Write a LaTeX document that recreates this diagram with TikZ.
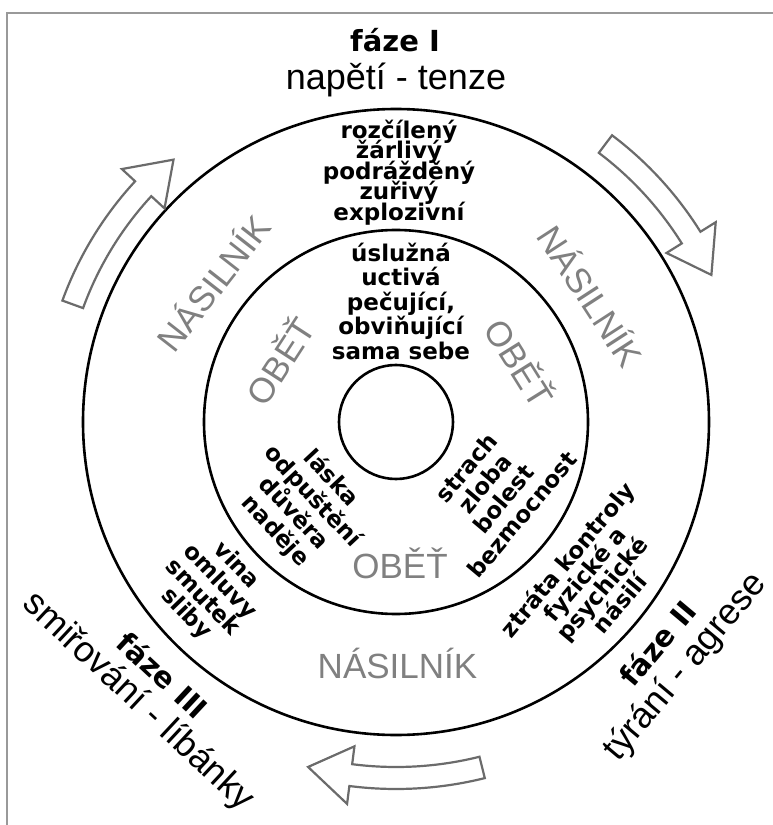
\documentclass[tikz,border=0pt]{standalone}
\usepackage{fontspec}
\usepackage{graphicx}
\setmainfont{Liberation Sans}
\newfontfamily\dvsans{DejaVu Sans}
\newcommand\blkfont[1]{\dvsans\bfseries\fontsize{23pt}{#1pt}\selectfont\lineskiplimit=-100pt\relax\lineskip=0pt\relax}
\tikzset{
  ring/.style={draw=black, line width=2.6pt},
  frameline/.style={draw=black!40, line width=2pt},
  cyc/.style={draw=black!58, line width=2.2pt, fill=white, line join=miter},
  blk/.style={font=\blkfont{#1}, align=center, inner sep=0pt, text=black},
  gr/.style={font=\fontsize{35pt}{40pt}\selectfont, text=black!50, inner sep=0pt},
  phase/.style={font=\dvsans\bfseries\fontsize{29pt}{30pt}\selectfont, inner sep=0pt},
  phasesub/.style={font=\fontsize{36pt}{40pt}\selectfont, inner sep=0pt},
}
% #1 tail angle, #2 tip angle, #3 centre radius
\newcommand\cyclearrow[3]{%
  \pgfmathsetmacro\arrHead{#2+7}%
  \pgfmathsetmacro\rOa{#3+11}\pgfmathsetmacro\rOb{#3+29}%
  \pgfmathsetmacro\rIa{#3-11}\pgfmathsetmacro\rIb{#3-29}%
  \draw[cyc] (#1:\rOa pt) arc[start angle=#1, end angle=\arrHead, radius=\rOa pt]
    -- (\arrHead:\rOb pt) -- (#2:#3pt) -- (\arrHead:\rIb pt) -- (\arrHead:\rIa pt)
    arc[start angle=\arrHead, end angle=#1, radius=\rIa pt] -- cycle;}
\begin{document}
\begin{tikzpicture}[x=1pt,y=1pt]
\useasboundingbox (-396,-403) rectangle (377,422);
\fill[white] (-396,-403) rectangle (377,422);
\draw[frameline] (377,409) -- (-389,409) -- (-389,-403);

% rings
\draw[ring] (0,0) circle[radius=313pt];
\draw[ring] (0,0) circle[radius=192pt];
\draw[ring] (0,0) circle[radius=57pt];

% cycle arrows
\cyclearrow{160}{130.3}{344}
\cyclearrow{53}{25}{348}
\cyclearrow{-76}{-104.3}{356}

% phases
\node[phase, anchor=base] (f1) at (-1,370) {fáze I};
\node[phasesub, anchor=base] (f1s) at (0,332) {napětí - tenze};
\node[phase, rotate=50] (f2) at (261,-221) {fáze II};
\node[phasesub, rotate=50] (f2s) at (290,-245) {týrání - agrese};
\node[phase, rotate=-43] (f3) at (-233,-253) {fáze III};
\node[phasesub, rotate=-43] (f3s) at (-258,-280) {smiřování - líbánky};

% gray labels
\node[gr, rotate=52] (n1) at (-184,140) {NÁSILNÍK};
\node[gr, rotate=-57] (n2) at (196,127) {NÁSILNÍK};
\node[gr, anchor=base] (n3) at (1.5,-256) {NÁSILNÍK};
\node[gr, rotate=57] (o1) at (-117,62) {OBĚŤ};
\node[gr, rotate=-58] (o2) at (125,60) {OBĚŤ};
\node[gr, anchor=base] (o3) at (4,-156) {OBĚŤ};

% word blocks
\node[blk=20.5] (b1) at (3,249.5) {rozčílený\\žárlivý\\podrážděný\\zuřivý\\explozivní};
\node[blk=24.5] (b2) at (5,121) {úslužná\\uctivá\\pečující,\\obviňující\\sama sebe};
\node[blk=25.5, rotate=-47] (b3) at (-93,-83) {láska\\odpuštění\\důvěra\\naděje};
\node[blk=24.4, rotate=50] (b4) at (98,-69) {strach\\zloba\\bolest\\bezmocnost};
\node[blk=22.7, rotate=50] (b5) at (197,-159) {ztráta kontroly\\fyzické a\\psychické\\násilí};
\node[blk=23.3, rotate=-46] (b6) at (-185,-168) {vina\\omluvy\\smutek\\sliby};
\end{tikzpicture}
\end{document}
